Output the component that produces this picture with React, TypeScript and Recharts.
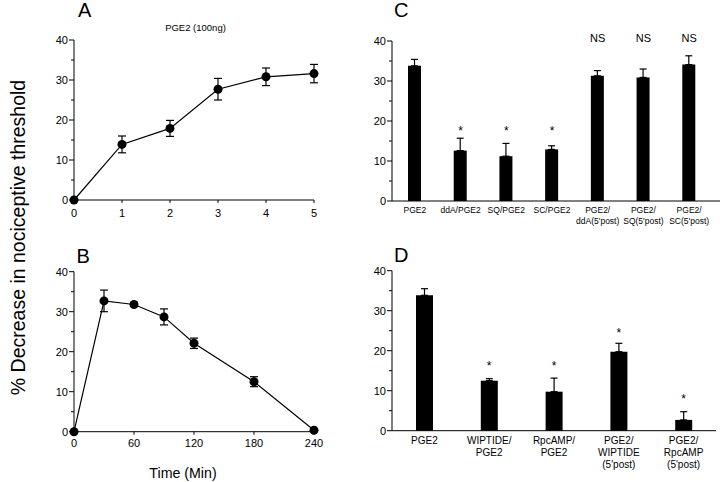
import React from 'react';
import {
  LineChart, Line, XAxis, YAxis, ErrorBar, ComposedChart, Bar, ReferenceDot,
} from 'recharts';

// ---------- Data ----------
const timeA = [0, 1, 2, 3, 4, 5];
const valuesA = [0, 13.9, 17.9, 27.7, 30.8, 31.6];
const errorsA = [0, 2.1, 2.0, 2.7, 2.2, 2.3];

const timeB = [0, 30, 60, 90, 120, 180, 240];
const valuesB = [0, 32.7, 31.8, 28.7, 22.1, 12.5, 0.35];
const errorsB = [0, 2.7, 0.5, 2.0, 1.3, 1.25, 0];

const categoriesC = ['PGE2', 'ddA/PGE2', 'SQ/PGE2', 'SC/PGE2', 'PGE2/\nddA(5\'post)', 'PGE2/\nSQ(5\'post)', 'PGE2/\nSC(5\'post)'];
const valuesC = [33.8, 12.6, 11.2, 12.9, 31.3, 30.9, 34.1];
const errorsC = [1.6, 3.1, 3.2, 0.9, 1.3, 2.1, 2.2];
const marksC = ['', '*', '*', '*', 'NS', 'NS', 'NS'];
const markLevelsC = [0, 18.5, 18.5, 18.5, 40.7, 40.7, 40.7];

const categoriesD = ['PGE2', 'WIPTIDE/\nPGE2', 'RpcAMP/\nPGE2', 'PGE2/\nWIPTIDE\n(5\'post)', 'PGE2/\nRpcAMP\n(5\'post)'];
const valuesD = [33.85, 12.5, 9.75, 19.75, 2.7];
const errorsD = [1.65, 0.5, 3.4, 2.1, 2.05];
const marksD = ['', '*', '*', '*', '*'];
const markLevelsD = [0, 17.0, 17.0, 25.4, 8.75];

const yTicks = [0, 5, 10, 15, 20, 25, 30, 35, 40];
const xTicksA = [0, 1, 2, 3, 4, 5];
const xTicksB = [0, 60, 120, 180, 240];

// ---------- Tables ----------
const dataA = timeA.map((t, i) => ({ t, v: valuesA[i], e: errorsA[i] }));
const dataB = timeB.map((t, i) => ({ t, v: valuesB[i], e: errorsB[i] }));
const dataC = categoriesC.map((c, i) => ({ c, v: valuesC[i], e: [0, errorsC[i]], mark: marksC[i], m: markLevelsC[i] }));
const dataD = categoriesD.map((c, i) => ({ c, v: valuesD[i], e: [0, errorsD[i]], mark: marksD[i], m: markLevelsD[i] }));

const FONT = '"Liberation Sans", Arial, Helvetica, sans-serif';

const YTick = (props: any) => {
  const { x, y, payload } = props;
  const axisX = x + 6;
  const major = payload.value % 10 === 0;
  return (
    <g>
      <line x1={axisX} x2={axisX - (major ? 5 : 3)} y1={y} y2={y} stroke="#000" strokeWidth={1} />
      {major && (
        <text x={x} y={y} dy="0.36em" textAnchor="end" fontSize={11} fontFamily={FONT} fill="#000">
          {payload.value}
        </text>
      )}
    </g>
  );
};

const makeXNumTick = (tickLen: number, gap: number) => (props: any) => {
  const { x, y, payload } = props;
  const axisY = y - 6;
  return (
    <g>
      <line x1={x} x2={x} y1={axisY} y2={axisY + tickLen} stroke="#000" strokeWidth={1} />
      <text x={x} y={axisY + gap} dy="0.71em" textAnchor="middle" fontSize={11} fontFamily={FONT} fill="#000">
        {payload.value}
      </text>
    </g>
  );
};

const makeCatTick = (fontSize: number, gap: number, lineH: number) => (props: any) => {
  const { x, y, payload } = props;
  const axisY = y - 6;
  const lines = String(payload.value).split('\n');
  return (
    <g>
      {lines.map((ln, i) => (
        <text key={i} x={x} y={axisY + gap + i * lineH} dy="0.71em" textAnchor="middle" fontSize={fontSize} fontFamily={FONT} fill="#000">
          {ln}
        </text>
      ))}
    </g>
  );
};

const makeMarkShape = (mark: string) => (props: any) => {
  const { cx, cy } = props;
  const isStar = mark === '*';
  return (
    <text x={cx} y={cy + (isStar ? 7.5 : 4)} textAnchor="middle" fontSize={isStar ? 12 : 11} fontFamily={FONT} fill="#000">
      {mark}
    </text>
  );
};

const renderMarks = (data: any[]) =>
  data.filter((d) => d.mark).map((d, i) => (
    <ReferenceDot key={`mk${i}`} x={d.c} y={d.m} r={0} ifOverflow="visible" shape={makeMarkShape(d.mark)} />
  ));

const axisLineStyle = { stroke: '#000', strokeWidth: 1 };

export default function App() {
  return (
    <div style={{ position: 'absolute', left: 0, top: 0, width: 720, height: 482, background: '#fff', fontFamily: FONT }}>
      {/* Panel A */}
      <div style={{ position: 'absolute', left: 0, top: 0 }}>
        <LineChart width={330} height={230} data={dataA} margin={{ top: 40, right: 16, bottom: 10, left: 44 }}>
          <XAxis dataKey="t" type="number" domain={[0, 5]} ticks={xTicksA} height={20}
            axisLine={axisLineStyle} tickLine={false} tickSize={6} tickMargin={0}
            tick={makeXNumTick(3, 9)} interval={0} />
          <YAxis type="number" domain={[0, 40]} ticks={yTicks} width={30} interval={0}
            axisLine={axisLineStyle} tickLine={false} tickSize={5} tickMargin={1} tick={<YTick />} />
          <Line dataKey="v" stroke="#000" strokeWidth={1.2} isAnimationActive={false}
            dot={{ r: 4.5, fill: '#000', stroke: '#000', strokeWidth: 0 }}>
            <ErrorBar dataKey="e" width={4} stroke="#000" strokeWidth={1.2} direction="y" />
          </Line>
        </LineChart>
      </div>

      {/* Panel B */}
      <div style={{ position: 'absolute', left: 0, top: 230 }}>
        <LineChart width={330} height={230} data={dataB} margin={{ top: 41.7, right: 16, bottom: 8.3, left: 44 }}>
          <XAxis dataKey="t" type="number" domain={[0, 240]} ticks={xTicksB} height={20}
            axisLine={axisLineStyle} tickLine={false} tickSize={6} tickMargin={0}
            tick={makeXNumTick(3, 7)} interval={0} />
          <YAxis type="number" domain={[0, 40]} ticks={yTicks} width={30} interval={0}
            axisLine={axisLineStyle} tickLine={false} tickSize={5} tickMargin={1} tick={<YTick />} />
          <Line dataKey="v" stroke="#000" strokeWidth={1.2} isAnimationActive={false}
            dot={{ r: 4.5, fill: '#000', stroke: '#000', strokeWidth: 0 }}>
            <ErrorBar dataKey="e" width={4} stroke="#000" strokeWidth={1.2} direction="y" />
          </Line>
        </LineChart>
      </div>

      {/* Panel C */}
      <div style={{ position: 'absolute', left: 360, top: 0 }}>
        <ComposedChart width={360} height={230} data={dataC} margin={{ top: 41, right: 0, bottom: 9, left: 2 }}>
          <XAxis dataKey="c" type="category" height={20} interval={0} padding={{ left: 0, right: 8 }}
            axisLine={axisLineStyle} tickLine={false} tickSize={6} tickMargin={0}
            tick={makeCatTick(8.5, 6, 10.5)} />
          <YAxis type="number" domain={[0, 40]} ticks={yTicks} width={30} interval={0}
            axisLine={axisLineStyle} tickLine={false} tickSize={5} tickMargin={1} tick={<YTick />} />
          <Bar dataKey="v" fill="#000" barSize={13} isAnimationActive={false}>
            <ErrorBar dataKey="e" width={3.5} stroke="#000" strokeWidth={1.2} direction="y" />
          </Bar>
          {renderMarks(dataC)}
        </ComposedChart>
      </div>

      {/* Panel D */}
      <div style={{ position: 'absolute', left: 360, top: 230 }}>
        <ComposedChart width={360} height={252} data={dataD} margin={{ top: 40.7, right: 4, bottom: 6.3, left: 2 }}>
          <XAxis dataKey="c" type="category" height={45} interval={0}
            axisLine={axisLineStyle} tickLine={false} tickSize={6} tickMargin={0}
            tick={makeCatTick(10, 6.5, 12)} />
          <YAxis type="number" domain={[0, 40]} ticks={yTicks} width={30} interval={0}
            axisLine={axisLineStyle} tickLine={false} tickSize={5} tickMargin={1} tick={<YTick />} />
          <Bar dataKey="v" fill="#000" barSize={17} isAnimationActive={false}>
            <ErrorBar dataKey="e" width={3.5} stroke="#000" strokeWidth={1.2} direction="y" />
          </Bar>
          {renderMarks(dataD)}
        </ComposedChart>
      </div>

      {/* Overlay text */}
      <svg width={720} height={482} style={{ position: 'absolute', left: 0, top: 0, pointerEvents: 'none' }}>
        <g fontFamily={FONT} fill="#000">
          <text x={78} y={17} fontSize={20}>A</text>
          <text x={76.5} y={263} fontSize={20}>B</text>
          <text x={394} y={17} fontSize={20}>C</text>
          <text x={394} y={262} fontSize={20}>D</text>
          <text x={195.5} y={30.5} fontSize={9.5} textAnchor="middle">PGE2 (100ng)</text>
          <text x={183} y={477.5} fontSize={14.2} textAnchor="middle">Time (Min)</text>
          <text x={25} y={237.5} fontSize={19.5} textAnchor="middle" transform="rotate(-90 25 237.5)">
            % Decrease in nociceptive threshold
          </text>
        </g>
      </svg>
    </div>
  );
}
